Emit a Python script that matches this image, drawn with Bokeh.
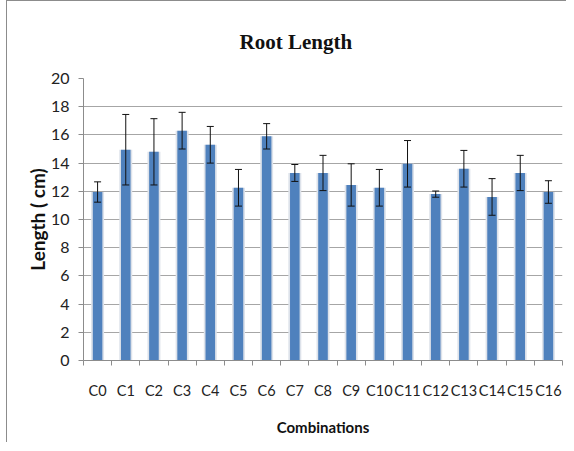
from bokeh.plotting import figure
from bokeh.models import ColumnDataSource, FixedTicker, Whisker, TeeHead
from bokeh.embed import file_html
from bokeh.resources import INLINE

categories = ["C0", "C1", "C2", "C3", "C4", "C5", "C6", "C7", "C8",
              "C9", "C10", "C11", "C12", "C13", "C14", "C15", "C16"]
means = [11.95, 14.95, 14.8, 16.3, 15.3, 12.25, 15.9, 13.3, 13.3,
         12.45, 12.25, 13.95, 11.8, 13.6, 11.6, 13.3, 11.95]
errors = [0.72, 2.5, 2.35, 1.3, 1.3, 1.3, 0.9, 0.6, 1.25,
          1.5, 1.3, 1.65, 0.22, 1.3, 1.3, 1.25, 0.8]
y_ticks = [0, 2, 4, 6, 8, 10, 12, 14, 16, 18, 20]

idx = list(range(len(categories)))
src = ColumnDataSource(dict(
    x=idx, top=means,
    upper=[m + e for m, e in zip(means, errors)],
    lower=[m - e for m, e in zip(means, errors)],
))

p = figure(width=560, height=442, output_backend="svg", toolbar_location=None,
           x_range=(-0.5, len(categories) - 0.5), y_range=(0, 20),
           min_border_left=76, min_border_right=5, min_border_top=77, min_border_bottom=83,
           title="Root Length",
           styles={"border-left": "1px solid #8c8c8c", "border-top": "1px solid #8c8c8c",
                   "margin-left": "6px"})

p.title.text_font = "Liberation Serif"
p.title.text_font_style = "bold"
p.title.text_font_size = "21px"
p.title.text_color = "#111111"
p.title.align = "left"
p.title.offset = 156
p.title.standoff = 50

p.outline_line_color = None
p.background_fill_color = "white"
p.border_fill_color = "white"

# bars with subtle shadow
p.vbar(x="x", top="top", width=0.46, bottom=0, source=src, color="#dde2ea", line_color=None)
p.vbar(x="x", top="top", width=0.34, bottom=0, source=src, color="#4f81bd", line_color=None)

w = Whisker(source=src, base="x", upper="upper", lower="lower", dimension="height",
            level="overlay", line_color="#111111", line_width=1,
            upper_head=TeeHead(size=7, line_color="#111111", line_width=1),
            lower_head=TeeHead(size=7, line_color="#111111", line_width=1))
p.add_layout(w)

# x axis
p.xaxis.ticker = FixedTicker(ticks=idx, minor_ticks=[i - 0.5 for i in range(len(categories) + 1)])
p.xaxis.major_label_overrides = {i: c for i, c in enumerate(categories)}
p.xaxis.major_tick_out = 0
p.xaxis.major_tick_in = 0
p.xaxis.minor_tick_out = 5
p.xaxis.minor_tick_in = 0
p.xaxis.minor_tick_line_color = "#8c8c8c"
p.xaxis.axis_line_color = "#8c8c8c"
p.xaxis.major_label_text_font = "Lato"
p.xaxis.major_label_text_font_size = "14.5px"
p.xaxis.major_label_text_color = "#222222"
p.xaxis.major_label_standoff = 16
p.xaxis.axis_label = "Combinations"
p.xaxis.axis_label_text_font = "Lato"
p.xaxis.axis_label_text_font_style = "bold"
p.xaxis.axis_label_text_font_size = "15px"
p.xaxis.axis_label_text_color = "#111111"
p.xaxis.axis_label_standoff = 16

# y axis
p.yaxis.ticker = FixedTicker(ticks=y_ticks)
p.yaxis.major_tick_out = 5
p.yaxis.major_tick_in = 0
p.yaxis.minor_tick_line_color = None
p.yaxis.major_tick_line_color = "#8c8c8c"
p.yaxis.axis_line_color = "#8c8c8c"
p.yaxis.major_label_text_font = "Lato"
p.yaxis.major_label_text_font_size = "16px"
p.yaxis.major_label_text_color = "#222222"
p.yaxis.major_label_standoff = 9
p.yaxis.axis_label = "Length ( cm)"
p.yaxis.axis_label_text_font = "Lato"
p.yaxis.axis_label_text_font_style = "bold"
p.yaxis.axis_label_text_font_size = "19px"
p.yaxis.axis_label_text_color = "#111111"
p.yaxis.axis_label_standoff = -1

p.xgrid.grid_line_color = None
p.ygrid.ticker = FixedTicker(ticks=y_ticks)
p.ygrid.grid_line_color = "#a6a6a6"
p.ygrid.grid_line_width = 1

open("out.html", "w").write(file_html(p, INLINE))
